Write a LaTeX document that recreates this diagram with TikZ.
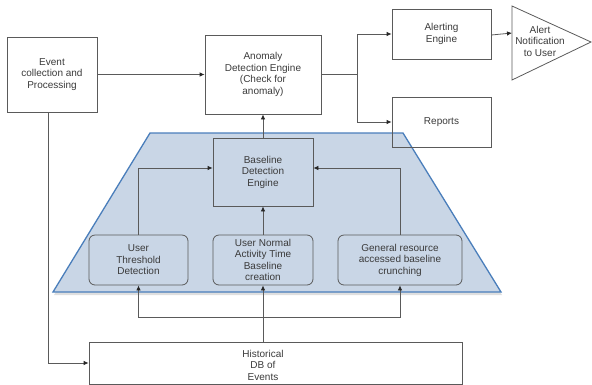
\documentclass[tikz,border=0pt]{standalone}
\usepackage{fontspec}
\setmainfont{Liberation Sans}
\usepackage{tikz}
\usetikzlibrary{arrows.meta,shadows}
\definecolor{linegray}{HTML}{5A5A5A}
\definecolor{textgray}{HTML}{3A3A3A}
\definecolor{zonefill}{HTML}{C9D6E6}
\definecolor{zoneline}{HTML}{4A7EBB}

\begin{document}
\begin{tikzpicture}[x=1pt,y=-1pt]
\tikzstyle{box}=[rectangle, draw=linegray, thick, align=center, text=textgray, font=\fontsize{10}{11.5}\selectfont, inner sep=1pt]
\tikzstyle{rbox}=[box, rounded corners=6pt]
\tikzstyle{arr}=[draw=linegray, thick, -{Latex[length=5pt,width=4.5pt,color=black!85]}]
\useasboundingbox (0,0) rectangle (592,384);
\draw[fill=zonefill, draw=zoneline, line width=1.3pt, drop shadow={opacity=0.25, shadow xshift=1pt, shadow yshift=-3pt}]
  (150,133) -- (403,133) -- (501,292) -- (53,292) -- cycle;
\draw node[box, minimum width=90, minimum height=75] (event) at (52,74.5) {Event\\collection and\\Processing};
\draw node[box, minimum width=116, minimum height=79] (anomaly) at (263,74.5) {Anomaly\\Detection Engine\\(Check for\\anomaly)};
\draw node[box, minimum width=99, minimum height=50] (alerting) at (441.5,34) {Alerting\\Engine};
\draw node[box, minimum width=99, minimum height=50] (reports) at (441.5,122) {Reports};
\draw node[box, minimum width=100, minimum height=68] (baseline) at (263,172) {Baseline\\Detection\\Engine};
\draw node[rbox, minimum width=99, minimum height=50] (thresh) at (138.5,260) {User\\Threshold\\Detection};
\draw node[rbox, minimum width=100, minimum height=50] (normal) at (263,260) {User Normal\\Activity Time\\Baseline\\creation};
\draw node[rbox, minimum width=124, minimum height=50] (general) at (400,260) {General resource\\accessed baseline\\crunching};
\draw node[box, minimum width=373, minimum height=42] (hist) at (275.5,363) {};
\node[text=textgray, align=center, font=\fontsize{10}{11.5}\selectfont] (histtext) at (263,365) {Historical\\DB of\\Events};
\draw[draw=linegray, thick] (512,6) -- (591,42) -- (512,80) -- cycle;
\coordinate (tri) at (512,33);
\node[text=textgray, align=center, font=\fontsize{10}{11.5}\selectfont] (alert) at (540,41) {Alert\\Notification\\to User};
\coordinate (split) at (357,74.5);
\coordinate (bus) at (263,317);
\draw[arr] (event.east) -- (anomaly.west);
\draw[draw=linegray, thick] (anomaly.east) -- (split);
\draw[arr] (split) |- (alerting.west);
\draw[arr] (split) |- (reports.west);
\draw[arr] ([yshift=-1pt]alerting.east) -- (tri);
\draw[arr] (baseline.north) -- (anomaly.south);
\draw[arr] (thresh.north) |- ([yshift=4pt]baseline.west);
\draw[arr] (general.north) |- ([yshift=4pt]baseline.east);
\draw[arr] (normal.north) -- (baseline.south);
\draw[arr] (normal.south |- hist.north) -- (normal.south);
\draw[arr] (bus) -| (thresh.south);
\draw[arr] (bus) -| (general.south);
\draw[arr] ([xshift=-4pt]event.south) |- (hist.west);
\end{tikzpicture}
\end{document}
